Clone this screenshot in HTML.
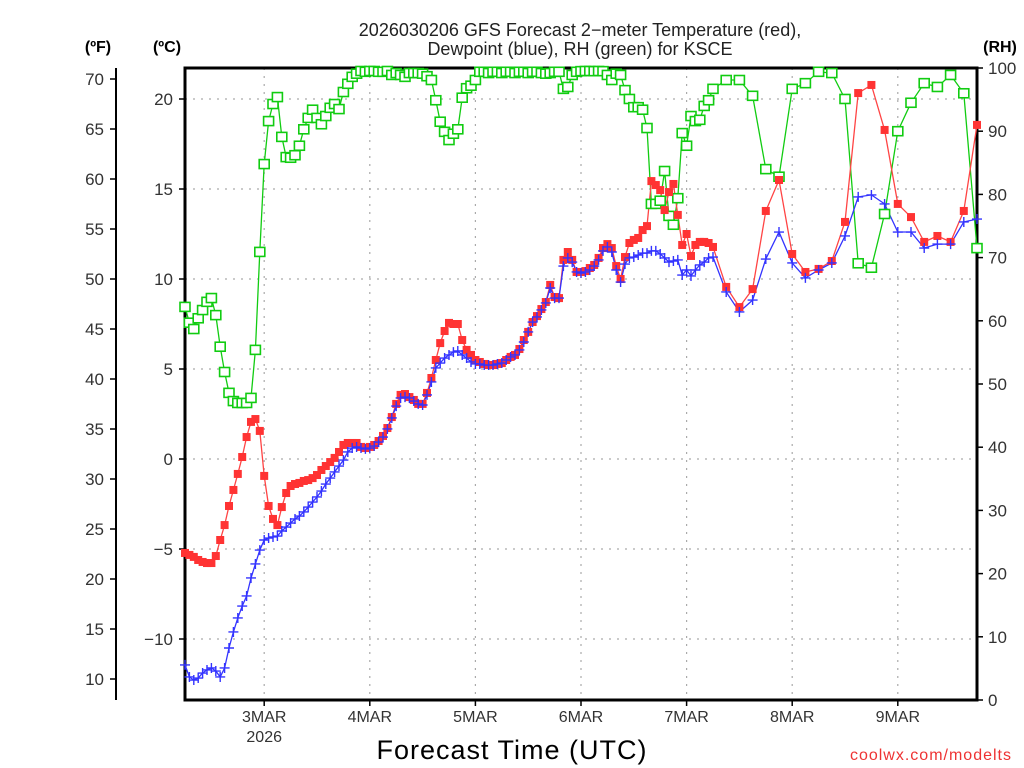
<!DOCTYPE html>
<html><head><meta charset="utf-8"><style>
html,body{margin:0;padding:0;background:#fff;}
svg{display:block;font-family:"Liberation Sans","DejaVu Sans",sans-serif;}
</style></head><body>
<svg id="chart" width="1024" height="768" viewBox="0 0 1024 768" xmlns="http://www.w3.org/2000/svg">
<text x="580" y="36" text-anchor="middle" font-size="18" fill="#222">2026030206 GFS Forecast 2−meter Temperature (red),</text>
<text x="580" y="55" text-anchor="middle" font-size="18" fill="#222">Dewpoint (blue), RH (green) for KSCE</text>
<text x="98" y="52" text-anchor="middle" font-size="16" font-weight="bold" fill="#000">(ºF)</text>
<text x="167" y="52" text-anchor="middle" font-size="16" font-weight="bold" fill="#000">(ºC)</text>
<text x="1000" y="52" text-anchor="middle" font-size="16" font-weight="bold" fill="#000">(RH)</text>
<text x="512" y="759" text-anchor="middle" font-size="27" fill="#000" letter-spacing="1">Forecast Time (UTC)</text>
<text x="1012" y="760" text-anchor="end" font-size="16" fill="#e33" letter-spacing="1">coolwx.com/modelts</text>
<g id="grid"></g>
<g id="axes"></g>
<g id="series"></g>
</svg>
<script>
const hoursHourly = []; for (let h = 0; h <= 120; h++) hoursHourly.push(h);
const hours3h = [123,126,129,132,135,138,141,144,147,150,153,156,159,162,165,168,171,174,177,180];
const hours = hoursHourly.concat(hours3h);
const tempC = [-5.22,-5.33,-5.44,-5.61,-5.72,-5.78,-5.78,-5.39,-4.5,-3.67,-2.61,-1.72,-0.83,0.11,1.22,2.06,2.22,1.56,-0.94,-2.61,-3.33,-3.67,-2.67,-1.89,-1.5,-1.39,-1.33,-1.22,-1.17,-1.06,-0.89,-0.61,-0.39,-0.17,0.06,0.39,0.78,0.89,0.89,0.89,0.67,0.61,0.67,0.78,1.0,1.28,1.72,2.33,3.06,3.56,3.61,3.44,3.28,3.06,3.06,3.67,4.5,5.5,6.44,7.11,7.56,7.5,7.5,6.61,6.06,5.78,5.5,5.39,5.28,5.22,5.22,5.28,5.33,5.5,5.67,5.78,6.11,6.61,7.06,7.61,7.94,8.33,8.72,9.67,9.0,8.94,11.06,11.5,11.06,10.39,10.39,10.44,10.61,10.78,11.17,11.72,11.94,11.72,10.72,10.0,11.22,12.0,12.17,12.28,12.72,12.94,15.44,15.22,14.94,13.83,14.83,15.28,13.56,11.89,12.5,11.28,11.89,12.06,12.06,12.0,11.78,
9.56,8.44,9.44,13.78,15.5,11.39,10.39,10.56,11.0,13.17,20.33,20.78,18.28,14.17,13.44,12.06,12.39,12.06,13.78,18.56];
const dewC = [-11.44,-12.11,-12.28,-12.17,-11.89,-11.72,-11.61,-11.78,-12.11,-11.61,-10.5,-9.61,-8.83,-8.17,-7.61,-6.61,-5.83,-5.06,-4.5,-4.39,-4.33,-4.28,-4.0,-3.78,-3.56,-3.33,-3.17,-2.94,-2.67,-2.39,-2.11,-1.78,-1.39,-1.06,-0.72,-0.39,-0.06,0.39,0.61,0.67,0.61,0.56,0.61,0.72,0.94,1.22,1.67,2.28,2.94,3.39,3.44,3.39,3.22,3.06,3.0,3.56,4.28,5.06,5.33,5.61,5.78,5.94,6.0,5.78,5.61,5.39,5.28,5.28,5.22,5.22,5.22,5.28,5.33,5.5,5.67,5.78,6.06,6.5,7.06,7.61,7.89,8.28,8.67,9.5,8.94,8.94,10.72,11.17,10.94,10.39,10.33,10.39,10.5,10.72,11.06,11.56,11.78,11.5,10.5,9.83,10.83,11.17,11.22,11.33,11.44,11.44,11.56,11.56,11.39,11.17,10.94,11.0,11.06,10.22,10.5,10.17,10.5,10.78,10.94,11.17,11.22,
9.28,8.17,8.83,11.11,12.61,10.89,10.06,10.5,10.89,12.39,14.56,14.67,14.17,12.61,12.61,11.72,11.94,11.94,13.17,13.33];
const rhPct = [62.2,59.7,58.7,60.4,61.7,63.0,63.6,60.9,55.9,51.9,48.6,47.3,47.0,47.0,47.0,47.8,55.4,70.9,84.8,91.6,94.3,95.4,89.1,85.9,85.8,86.2,87.7,90.3,92.1,93.4,92.1,91.1,92.4,93.7,94.3,93.5,96.2,97.5,98.6,99.1,
99.7,99.4,99.7,99.7,99.4,99.4,99.7,98.9,99.2,98.9,98.6,99.2,99.2,99.2,99.1,98.7,98.1,94.9,91.5,89.9,88.6,89.6,90.3,95.3,96.8,97.2,98.1,99.4,99.4,99.2,99.4,99.4,99.2,99.4,99.4,99.2,99.4,99.4,99.2,99.4,99.4,99.2,99.1,99.2,99.4,99.4,96.7,97.0,98.9,99.4,99.5,99.7,99.7,99.5,99.7,99.5,98.9,98.1,99.1,98.9,96.5,95.1,93.8,93.8,93.4,90.5,78.5,78.5,79.0,83.7,76.6,75.2,79.4,89.7,87.7,92.4,91.6,91.8,94.0,94.9,96.7,
98.1,98.1,95.6,84.0,82.8,96.7,97.6,99.4,99.2,95.1,69.1,68.4,76.9,90.0,94.5,97.6,97.0,98.9,96.0,71.5];
const dayLabels = ["3MAR","4MAR","5MAR","6MAR","7MAR","8MAR","9MAR"];
const dayHours = [18,42,66,90,114,138,162];
const fTicks = [10,15,20,25,30,35,40,45,50,55,60,65,70];
const cTicks = [-10,-5,0,5,10,15,20];
const rhTicks = [0,10,20,30,40,50,60,70,80,90,100];

const L=185,R=977,T=68,B=700;
const xOf = h => L + (h/180)*(R-L);
const yC = c => 459 - c*18;
const yF = f => yC((f-32)*5/9);
const yRH = r => B - (r/100)*(B-T);
const NS="http://www.w3.org/2000/svg";
function mk(tag, attrs, parent){const e=document.createElementNS(NS,tag);for(const k in attrs)e.setAttribute(k,attrs[k]);parent.appendChild(e);return e;}
const grid=document.getElementById('grid'), axes=document.getElementById('axes'), ser=document.getElementById('series');

cTicks.forEach(c=>{
  const y=yC(c);
  const g=mk('line',{x1:L,x2:R,y1:y,y2:y,stroke:'#aaa','stroke-width':1.2,'stroke-dasharray':'2,6'},grid);
  
  
  const t=mk('line',{x1:L-6,x2:L,y1:y,y2:y,stroke:'#000','stroke-width':1.5},axes);
  
  
  const lb=mk('text',{x:L-12,y:y+6,'text-anchor':'end','font-size':17,fill:'#333'},axes);
  lb.textContent=(c<0?'−':'')+Math.abs(c);
  
  
});
dayHours.forEach((h,i)=>{
  const x=xOf(h);
  const g=mk('line',{x1:x,x2:x,y1:T,y2:B,stroke:'#aaa','stroke-width':1.2,'stroke-dasharray':'2,6'},grid);
  
  
  const t=mk('line',{x1:x,x2:x,y1:B,y2:B+6,stroke:'#000','stroke-width':1.5},axes);
  
  
  const lb=mk('text',{x:x,y:B+22,'text-anchor':'middle','font-size':16,fill:'#333'},axes);
  lb.textContent=dayLabels[i];
  
  
});
const yr=mk('text',{x:xOf(dayHours[0]),y:B+42,'text-anchor':'middle','font-size':16,fill:'#333'},axes);
yr.textContent='2026';



const fa=mk('line',{x1:116,x2:116,y1:T,y2:B,stroke:'#000','stroke-width':2},axes);


fTicks.forEach(f=>{
  const y=yF(f);
  const t=mk('line',{x1:110,x2:116,y1:y,y2:y,stroke:'#000','stroke-width':1.5},axes);
  
  
  const lb=mk('text',{x:104,y:y+6,'text-anchor':'end','font-size':17,fill:'#333'},axes);
  lb.textContent=f;
  
  
});
rhTicks.forEach(r=>{
  const y=yRH(r);
  const t=mk('line',{x1:R,x2:R+6,y1:y,y2:y,stroke:'#000','stroke-width':1.5},axes);
  
  
  const lb=mk('text',{x:R+11,y:y+6,'text-anchor':'start','font-size':17,fill:'#333'},axes);
  lb.textContent=r;
  
  
});
const fr=mk('rect',{x:L,y:T,width:R-L,height:B-T,fill:'none',stroke:'#000','stroke-width':3},axes);



function series(vals,yfun,color,name){
  const pts=hours.map((h,i)=>xOf(h).toFixed(1)+','+Math.max(T,yfun(vals[i])).toFixed(1)).join(' ');
  const pl=mk('polyline',{points:pts,fill:'none',stroke:color,'stroke-width':1.3},ser);
  
  
}
series(rhPct,yRH,'#1c1','rh');
series(tempC,yC,'#f44','temperature');
series(dewC,yC,'#33f','dewpoint');
hours.forEach((h,i)=>{
  const x=xOf(h), y=Math.max(T+3,yRH(rhPct[i]));
  const m=mk('rect',{x:x-5,y:y-4.5,width:10,height:9,fill:'#fff',stroke:'#1c1','stroke-width':1.6},ser);
  
  
});
hours.forEach((h,i)=>{
  const x=xOf(h), y=yC(tempC[i]);
  const m=mk('rect',{x:x-4,y:y-4,width:8,height:8,fill:'#f33'},ser);
  
  
});
hours.forEach((h,i)=>{
  const x=xOf(h), y=yC(dewC[i]);
  const m=mk('path',{d:`M${x-5},${y}H${x+5}M${x},${y-5}V${y+5}`,stroke:'#33f','stroke-width':1.4,fill:'none'},ser);
  
  
});
</script>
</body></html>
